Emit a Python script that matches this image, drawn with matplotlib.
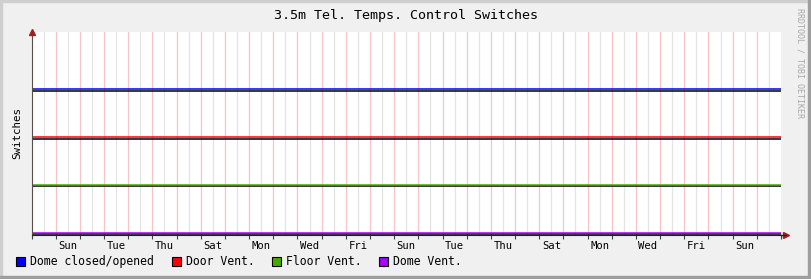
import matplotlib
matplotlib.use("Agg")
import matplotlib.pyplot as plt
import matplotlib.patheffects as pe
from matplotlib.patches import Rectangle

# Data (31 days, constant switch states)
days = [0, 31]
dome_switch = [3, 3]
door_vent = [2, 2]
floor_vent = [1, 1]
dome_vent = [0, 0]

series_names = ["Dome closed/opened", "Door Vent.", "Floor Vent.", "Dome Vent."]
series_colors = ["#0000ff", "#ff0000", "#44aa00", "#aa00ff"]

tick_pos = [1.5, 3.5, 5.5, 7.5, 9.5, 11.5, 13.5, 15.5, 17.5, 19.5, 21.5, 23.5, 25.5, 27.5, 29.5]
tick_labels = ["Sun", "Tue", "Thu", "Sat", "Mon", "Wed", "Fri", "Sun",
               "Tue", "Thu", "Sat", "Mon", "Wed", "Fri", "Sun"]

W, H = 811, 279
fig = plt.figure(figsize=(W / 100, H / 100), dpi=100)
fig.patch.set_facecolor("#f0f0f0")
mono = "DejaVu Sans Mono"

# rrdtool style 3d border
fig.patches.append(Rectangle((0, 1 - 2 / H), 1, 2 / H, transform=fig.transFigure, color="#cfcfcf", zorder=0))
fig.patches.append(Rectangle((0, 0), 2 / W, 1, transform=fig.transFigure, color="#cfcfcf", zorder=0))
fig.patches.append(Rectangle((1 - 3 / W, 0), 3 / W, 1, transform=fig.transFigure, color="#9e9e9e", zorder=0))
fig.patches.append(Rectangle((0, 0), 1, 3 / H, transform=fig.transFigure, color="#9e9e9e", zorder=0))

left, right, top, bottom = 31.5, 781, 32, 234.5
ax = fig.add_axes([left / W, (H - bottom) / H, (right - left) / W, (bottom - top) / H])
ax.set_facecolor("white")
ax.set_xlim(0, 31)
ax.set_ylim(-0.035, 4.2)

# grid
for d in range(31):
    ax.axvline(d + 0.5, color="#e4e4e4", lw=0.9, zorder=1)
for d in range(1, 31):
    ax.axvline(d, color="#f6c4c4", lw=0.9, zorder=1)

shadow = [pe.SimpleLineShadow(offset=(0, -1.0), shadow_color="black", alpha=1), pe.Normal()]
for vals, c in zip([dome_switch, door_vent, floor_vent, dome_vent], series_colors):
    ax.plot(days, vals, color=c, lw=1.1, path_effects=shadow, zorder=3, clip_on=False,
            solid_capstyle="butt")

for s in ["top", "right"]:
    ax.spines[s].set_visible(False)
ax.spines["left"].set_color("#5a4a4a")
ax.spines["bottom"].set_color("#202020")
ax.spines["left"].set_zorder(4)

ax.set_yticks([])
ax.set_xticks(tick_pos)
ax.set_xticklabels(tick_labels, family=mono, fontsize=7.6)
ax.set_xticks(list(range(0, 32)), minor=True)
ax.tick_params(axis="x", which="major", length=0, pad=5)
ax.tick_params(axis="x", which="minor", length=3, color="#404040", width=0.8)
ax.set_ylabel("Switches", family=mono, fontsize=7.8, labelpad=7)

# axis arrows
ax.plot([0], [1], marker="^", ms=4.5, color="#a02020", transform=ax.transAxes, clip_on=False, zorder=5)
ax.plot([1.007], [0], marker=">", ms=4.5, color="#a02020", transform=ax.transAxes, clip_on=False, zorder=5)
ax.plot([1, 1.007], [0, 0], color="#202020", lw=1, transform=ax.transAxes, clip_on=False, zorder=5)

fig.text(406 / W, 1 - 16 / H, "3.5m Tel. Temps. Control Switches", family=mono,
         fontsize=9.6, ha="center", va="center")
fig.text(800 / W, 1 - 8 / H, "RRDTOOL / TOBI OETIKER", family=mono, fontsize=6,
         color="#a8a8a8", rotation=-90, ha="center", va="top")

# legend
sq_x = [16, 172, 272, 379]
for x0, name, c in zip(sq_x, series_names, series_colors):
    fig.patches.append(Rectangle((x0 / W, 1 - 266 / H), 9 / W, 9 / H, transform=fig.transFigure,
                                 facecolor=c, edgecolor="black", lw=0.8))
    fig.text((x0 + 14) / W, 1 - 261.5 / H, name, family=mono, fontsize=8.3, va="center", ha="left")

fig.savefig("out.png", dpi=100, facecolor=fig.get_facecolor())
